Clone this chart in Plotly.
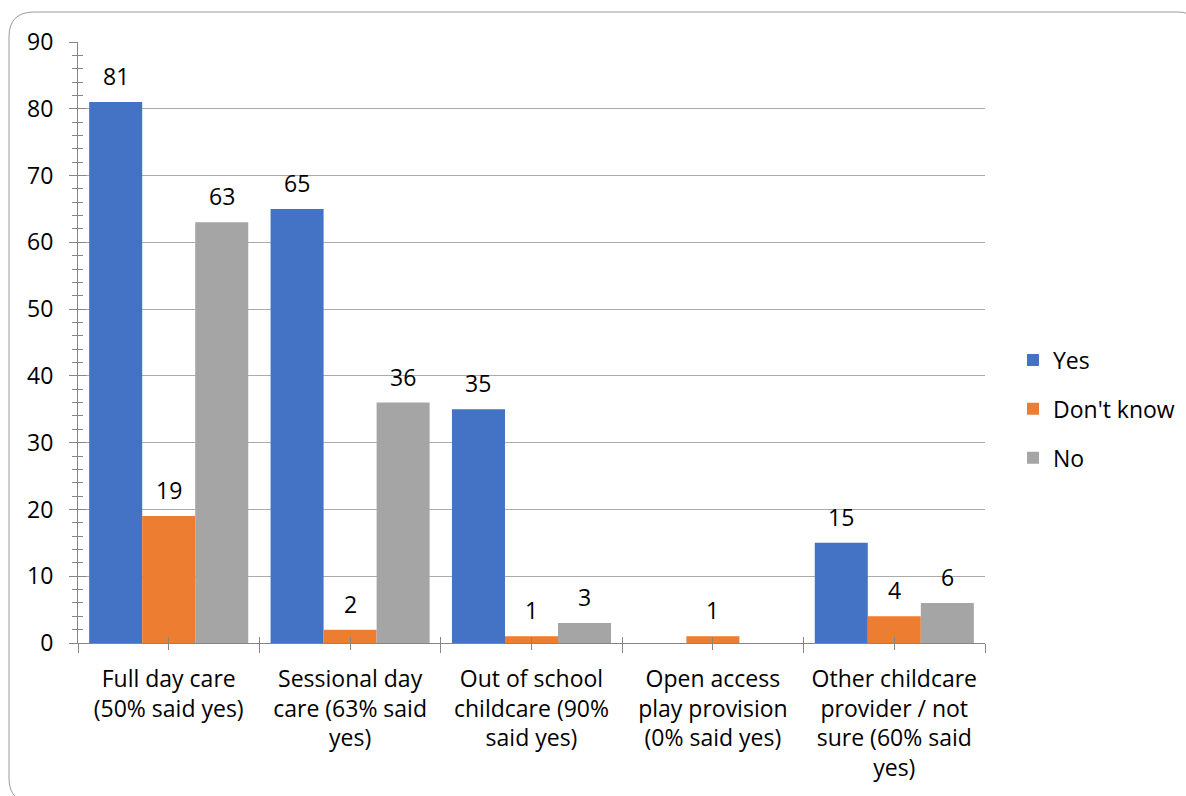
import plotly.graph_objects as go

categories = [
    "Full day care<br>(50% said yes)",
    "Sessional day<br>care (63% said<br>yes)",
    "Out of school<br>childcare (90%<br>said yes)",
    "Open access<br>play provision<br>(0% said yes)",
    "Other childcare<br>provider / not<br>sure (60% said<br>yes)",
]
series_names = ["Yes", "Don't know", "No"]
yes_vals = [81, 65, 35, 0, 15]
dontknow_vals = [19, 2, 1, 1, 4]
no_vals = [63, 36, 3, 0, 6]
colors = ["#4472C4", "#ED7D31", "#A5A5A5"]
y_ticks = [0, 10, 20, 30, 40, 50, 60, 70, 80, 90]

W, H = 1186, 796
ML, MR, MT, MB = 78, 201, 42, 153
PW, PH = W - ML - MR, H - MT - MB
FONT = "Open Sans"
FS = 23
BARGAP = 0.123

def px(x):
    return (x - ML) / PW

def py(y):
    return (H - MB - y) / PH

fig = go.Figure()
all_series = [yes_vals, dontknow_vals, no_vals]
for i, (name, vals, col) in enumerate(zip(series_names, all_series, colors)):
    fig.add_trace(go.Bar(
        name=name, x=categories, y=vals, marker=dict(color=col, line=dict(width=0)),
        legendgroup=name, hoverinfo="x+y+name",
    ))

# data labels
n = len(all_series)
bw = (1 - BARGAP) / n
annotations = []
for j, vals in enumerate(all_series):
    off = (j - (n - 1) / 2) * bw
    for i, v in enumerate(vals):
        if v == 0:
            continue
        annotations.append(dict(
            x=i + off, y=v, xref="x", yref="y", text=str(v), showarrow=False,
            yshift=26, yanchor="middle", font=dict(family=FONT, size=FS, color="#000000"),
        ))

# helper traces for overlay tick axes
fig.add_trace(go.Scatter(x=[], y=[], xaxis="x2", yaxis="y2", showlegend=False, hoverinfo="skip"))
fig.add_trace(go.Scatter(x=[], y=[], xaxis="x3", yaxis="y", showlegend=False, hoverinfo="skip"))

ncat = len(categories)
bounds = [k - 0.5 for k in range(ncat + 1)]
mids = list(range(ncat))

# rounded border (pixel geometry -> paper)
L, T, R, B, r = 9, 12, 1202, 803, 25
path = (
    f"M {px(L)},{py(T + r)} "
    f"Q {px(L)},{py(T)} {px(L + r)},{py(T)} "
    f"L {px(R - r)},{py(T)} "
    f"Q {px(R)},{py(T)} {px(R)},{py(T + r)} "
    f"L {px(R)},{py(B - r)} "
    f"Q {px(R)},{py(B)} {px(R - r)},{py(B)} "
    f"L {px(L + r)},{py(B)} "
    f"Q {px(L)},{py(B)} {px(L)},{py(B - r)} Z"
)

fig.update_layout(
    width=W, height=H,
    margin=dict(l=ML, r=MR, t=MT, b=MB, pad=0, autoexpand=False),
    paper_bgcolor="white", plot_bgcolor="white",
    barmode="group", bargap=BARGAP, bargroupgap=0,
    font=dict(family=FONT, size=FS, color="#000000"),
    showlegend=True,
    legend=dict(
        x=px(1013), y=py(409), xanchor="left", yanchor="middle",
        font=dict(family=FONT, size=FS, color="#000000"),
        traceorder="grouped", tracegroupgap=16, bgcolor="rgba(0,0,0,0)",
    ),
    xaxis=dict(
        type="category", categoryorder="array", categoryarray=categories,
        showgrid=False, showline=True, linecolor="#868686", linewidth=1,
        ticks="", ticklabelstandoff=15,
        tickfont=dict(family=FONT, size=FS, color="#000000"),
        range=[-0.5, ncat - 0.5], fixedrange=True,
    ),
    xaxis2=dict(
        overlaying="x", anchor="y2", side="bottom", type="linear",
        range=[-0.5, ncat - 0.5], showgrid=False, showline=False, zeroline=False,
        showticklabels=False, tickmode="array", tickvals=bounds,
        ticks="outside", ticklen=9, tickcolor="#868686", tickwidth=1,
        minor=dict(tickmode="array", tickvals=mids, ticks="outside", ticklen=6,
                   tickcolor="#868686", tickwidth=1, showgrid=False),
    ),
    xaxis3=dict(
        overlaying="x", anchor="y", side="bottom", type="linear",
        range=[-0.5, ncat - 0.5], showgrid=False, showline=False, zeroline=False,
        showticklabels=False, tickmode="array", tickvals=bounds + mids,
        ticks="inside", ticklen=6, tickcolor="#868686", tickwidth=1,
    ),
    yaxis=dict(
        range=[0, 90], tickmode="array", tickvals=y_ticks,
        showgrid=True, gridcolor="#ababab", gridwidth=1,
        showline=True, linecolor="#868686", linewidth=1, zeroline=False,
        ticks="outside", ticklen=8, tickcolor="#868686", tickwidth=1,
        minor=dict(dtick=2, tick0=0, ticks="outside", ticklen=5, tickcolor="#868686",
                   tickwidth=1, showgrid=False),
        ticklabelstandoff=11,
        tickfont=dict(family=FONT, size=FS, color="#000000"),
        fixedrange=True,
    ),
    yaxis2=dict(
        overlaying="y", anchor="x2", side="left", range=[0, 90],
        tickmode="array", tickvals=y_ticks, showgrid=False, showline=False, zeroline=False,
        showticklabels=False, ticks="inside", ticklen=8, tickcolor="#868686", tickwidth=1,
        minor=dict(dtick=2, tick0=0, ticks="inside", ticklen=5, tickcolor="#868686",
                   tickwidth=1, showgrid=False),
    ),
    annotations=annotations,
    shapes=[dict(type="path", path=path, xref="paper", yref="paper",
                 line=dict(color="#9a9a9a", width=1), fillcolor="rgba(0,0,0,0)", layer="below")],
)

fig.write_html("out.html")
